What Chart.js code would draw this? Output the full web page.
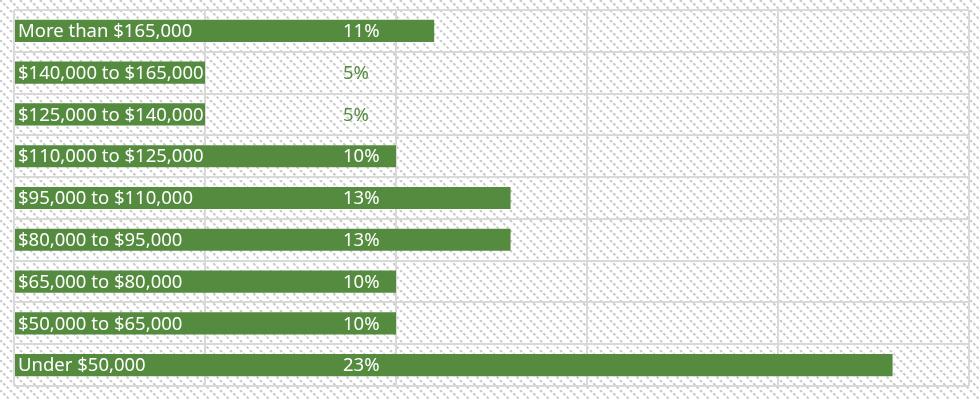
<!DOCTYPE html>
<html>
<head>
<meta charset="utf-8">
<script src="https://cdn.jsdelivr.net/npm/chart.js@4"></script>
<style>
  html, body { margin: 0; padding: 0; background: #fff; }
  #wrap { width: 980px; height: 400px; }
</style>
</head>
<body>
<div id="wrap"><canvas id="chart"></canvas></div>
<script>
const categories = [
  "More than $165,000",
  "$140,000 to $165,000",
  "$125,000 to $140,000",
  "$110,000 to $125,000",
  "$95,000 to $110,000",
  "$80,000 to $95,000",
  "$65,000 to $80,000",
  "$50,000 to $65,000",
  "Under $50,000",
];
const shares = [11, 5, 5, 10, 13, 13, 10, 10, 23];
const axisTicks = [0, 5, 10, 15, 20, 25];

const green = "#558b3f";
const font = "18.5px 'Noto Sans', sans-serif";

// diagonal dotted hatch, top-left to bottom-right
function makeHatch() {
  const c = document.createElement("canvas");
  c.width = 10;
  c.height = 10;
  const g = c.getContext("2d");
  g.fillStyle = "#fff";
  g.fillRect(0, 0, 10, 10);
  g.strokeStyle = "#c9c9c9";
  g.lineWidth = 2;
  g.setLineDash([2.8, 1.9]);
  [-10, 0, 10].forEach((o) => {
    g.beginPath();
    g.moveTo(o, 0);
    g.lineTo(o + 10, 10);
    g.stroke();
  });
  return g.createPattern(c, "repeat");
}

const hatchBackground = {
  id: "hatchBackground",
  beforeDraw(chart) {
    const ctx = chart.ctx;
    ctx.save();
    ctx.fillStyle = makeHatch();
    ctx.fillRect(0, 0, chart.width, chart.height);
    ctx.restore();
  },
};

const barLabels = {
  id: "barLabels",
  afterDatasetsDraw(chart) {
    const ctx = chart.ctx;
    const meta = chart.getDatasetMeta(0);
    ctx.save();
    ctx.font = font;
    ctx.textBaseline = "middle";
    ctx.textAlign = "left";
    meta.data.forEach((bar, i) => {
      ctx.fillStyle = "#fff";
      ctx.fillText(categories[i], chart.chartArea.left + 4, bar.y + 1);
      const valueX = 343;
      const text = `${shares[i]}%`;
      const w = ctx.measureText(text).width;
      ctx.fillStyle = bar.x >= valueX + w ? "#fff" : green;
      ctx.fillText(text, valueX, bar.y + 1);
    });
    ctx.restore();
  },
};

new Chart(document.getElementById("chart"), {
  type: "bar",
  data: {
    labels: categories,
    datasets: [{
      data: shares,
      backgroundColor: green,
      borderWidth: 0,
      categoryPercentage: 1,
      barPercentage: 0.53,
    }],
  },
  options: {
    indexAxis: "y",
    responsive: true,
    maintainAspectRatio: false,
    animation: false,
    layout: { padding: { left: 14, right: 11, top: 10, bottom: 14 } },
    scales: {
      x: {
        min: axisTicks[0],
        max: axisTicks[axisTicks.length - 1],
        afterBuildTicks: (axis) => { axis.ticks = axisTicks.map((v) => ({ value: v })); },
        ticks: { display: false },
        grid: { color: "#d9d9d9", lineWidth: 2, drawTicks: false },
        border: { display: false },
      },
      y: {
        ticks: { display: false },
        grid: { color: "#d9d9d9", lineWidth: 2, drawTicks: false, offset: true },
        border: { display: false },
      },
    },
    plugins: {
      legend: { display: false },
      tooltip: { enabled: false },
    },
  },
  plugins: [hatchBackground, barLabels],
});
</script>
</body>
</html>
